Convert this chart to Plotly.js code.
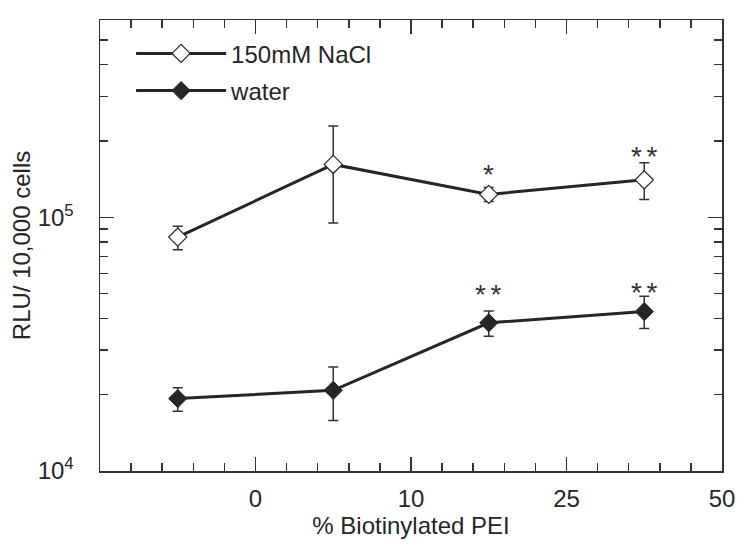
<!DOCTYPE html>
<html><head><meta charset="utf-8">
<script src="https://cdn.plot.ly/plotly-3.0.1.min.js"></script>
<style>html,body{margin:0;padding:0;background:#fff}</style>
</head><body><div id="chart" style="width:750px;height:553px"></div>
<script>
// categorical positions of the four groups between the labelled ticks
const xPos = [-0.5, 0.5, 1.5, 2.5];
const tickPos = [0, 1, 2, 3];
const tickLabels = ['0', '10', '25', '50'];

const naclY   = [83600, 161700, 123200, 140600];
const naclUp  = [92200, 229000, 131200, 164300];
const naclLow = [74600, 95000, 115600, 117700];

const waterY   = [19300, 20800, 38400, 42500];
const waterUp  = [21300, 25700, 42700, 48900];
const waterLow = [17200, 15800, 34000, 36500];

const naclStars  = ['', '', '*', '*\u2006*'];
const naclStarY  = [null, null, 151000, 179000];
const waterStars = ['', '', '*\u2006*', '*\u2006*'];
const waterStarY = [null, null, 50800, 51900];

const ink = '#262626';
const plus = (v, u) => v.map((d, i) => u[i] - d);
const minus = (v, l) => v.map((d, i) => d - l[i]);

const errStyle = {color: '#333', thickness: 1.5, width: 5};

const traces = [
  {
    x: xPos, y: naclY, name: '150mM NaCl', legendgroup: 'a', type: 'scatter', mode: 'lines+markers',
    line: {color: ink, width: 3},
    marker: {symbol: 'diamond', size: 14, color: '#fff', line: {color: ink, width: 1.2}},
    error_y: Object.assign({type: 'data', symmetric: false, array: plus(naclY, naclUp), arrayminus: minus(naclY, naclLow)}, errStyle)
  },
  {
    x: xPos, y: waterY, name: 'water', legendgroup: 'b', type: 'scatter', mode: 'lines+markers',
    line: {color: ink, width: 3},
    marker: {symbol: 'diamond', size: 14, color: ink, line: {color: ink, width: 1}},
    error_y: Object.assign({type: 'data', symmetric: false, array: plus(waterY, waterUp), arrayminus: minus(waterY, waterLow)}, errStyle)
  }
];

const annotations = [];
function addStars(labels, ys) {
  labels.forEach((t, i) => {
    if (!t) return;
    annotations.push({x: xPos[i], y: Math.log10(ys[i]), xref: 'x', yref: 'y', text: t,
      showarrow: false, xanchor: 'center', yanchor: 'middle', yshift: -3,
      font: {family: 'Liberation Sans, Arial, sans-serif', size: 28, color: '#333'}});
  });
}
addStars(naclStars, naclStarY);
addStars(waterStars, waterStarY);

const layout = {
  width: 750, height: 553,
  margin: {l: 100, r: 28, t: 20, b: 82},
  paper_bgcolor: '#fff', plot_bgcolor: '#fff',
  font: {family: 'Liberation Sans, Arial, sans-serif', size: 24, color: '#262626'},
  showlegend: true,
  legend: {x: 0.05, y: 0.975, xanchor: 'left', yanchor: 'top', bgcolor: 'rgba(0,0,0,0)',
    font: {size: 24, color: '#262626'}, tracegroupgap: 3, itemwidth: 90},
  xaxis: {
    range: [-1, 3], tickmode: 'array', tickvals: tickPos, ticktext: tickLabels,
    ticks: 'inside', ticklen: 14, tickwidth: 1.5, tickcolor: '#333',
    showline: true, linecolor: '#333', linewidth: 1.5, mirror: 'ticks',
    showgrid: false, zeroline: false, ticklabelstandoff: 6,
    tickfont: {size: 24},
    minor: {dtick: 0.2, tick0: 0, ticks: 'inside', ticklen: 8, tickwidth: 1.5, tickcolor: '#333', showgrid: false},
    title: {text: '% Biotinylated PEI', font: {size: 24}, standoff: 6}
  },
  yaxis: {
    type: 'log', range: [4, Math.log10(6e5)],
    tickmode: 'array', tickvals: [1e4, 1e5], ticktext: ['10<sup>4</sup>', '10<sup>5</sup>'],
    ticks: 'inside', ticklen: 14, tickwidth: 1.5, tickcolor: '#333',
    showline: true, linecolor: '#333', linewidth: 1.5, mirror: 'ticks',
    showgrid: false, zeroline: false, ticklabelstandoff: 20,
    tickfont: {size: 24},
    minor: {tickvals: [2e4,3e4,4e4,5e4,6e4,7e4,8e4,9e4,2e5,3e5,4e5,5e5], ticks: 'inside', ticklen: 8, tickwidth: 1.5, tickcolor: '#333', showgrid: false},
    title: {text: 'RLU/ 10,000 cells', font: {size: 24}, standoff: 0}
  },
  annotations: annotations
};

Plotly.newPlot('chart', traces, layout, {staticPlot: true, displayModeBar: false});
</script>
</body></html>
